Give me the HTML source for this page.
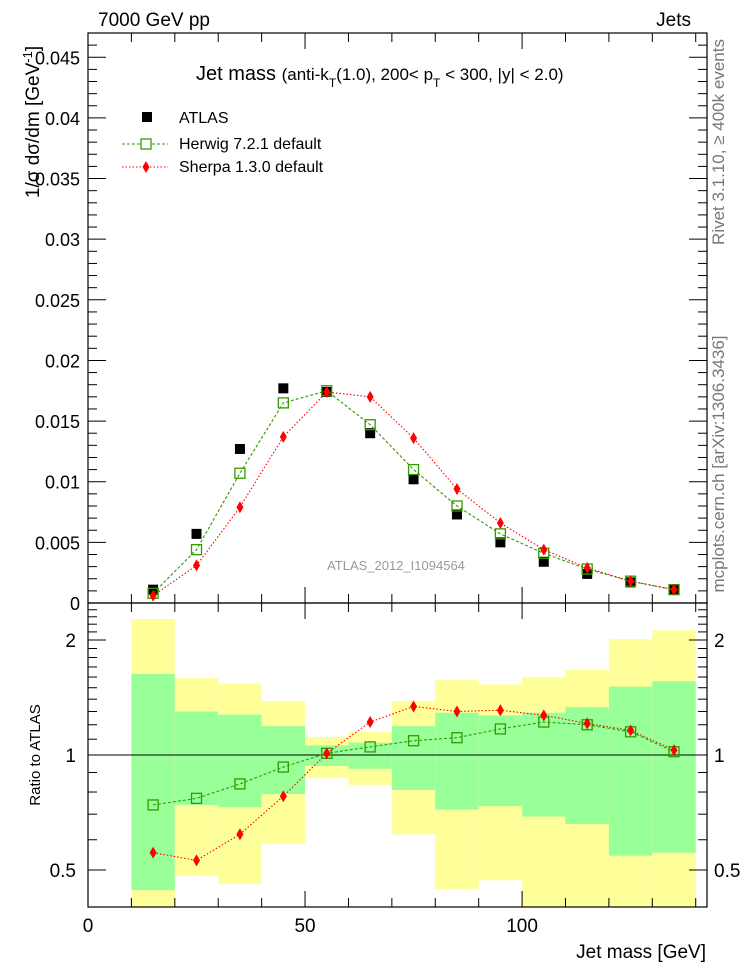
<!DOCTYPE html>
<html><head><meta charset="utf-8"><style>
html,body{margin:0;padding:0;background:#fff}
svg{display:block;font-family:"Liberation Sans",sans-serif}
</style></head><body>
<svg id="c" width="746" height="972" viewBox="0 0 746 972">
<defs>
<clipPath id="clipR"><rect x="88" y="603" width="619" height="304"/></clipPath>
</defs>
<text x="98" y="26" font-size="19">7000 GeV pp</text>
<text x="691" y="26" font-size="19" text-anchor="end">Jets</text>
<g id="ratioBands" clip-path="url(#clipR)"></g>
<g id="mainG"></g>
<g id="ratioG"></g>
<text x="196" y="80" font-size="20">Jet mass <tspan font-size="17">(anti-k</tspan><tspan font-size="12" dy="7">T</tspan><tspan font-size="17" dy="-7">(1.0), 200&lt; p</tspan><tspan font-size="12" dy="7">T</tspan><tspan font-size="17" dy="-7"> &lt; 300, |y| &lt; 2.0)</tspan></text>
<g>
<rect x="142" y="112" width="10" height="10" fill="#000"/>
<text x="179" y="123" font-size="16">ATLAS</text>
<line x1="122" y1="144" x2="168" y2="144" stroke="#339900" stroke-dasharray="3,2"/>
<rect x="141" y="139" width="10" height="10" fill="#fff" stroke="#339900" stroke-width="1.3"/>
<text x="179" y="149" font-size="16">Herwig 7.2.1 default</text>
<line x1="122" y1="167" x2="168" y2="167" stroke="#ff0000" stroke-dasharray="1.5,2"/>
<polygon points="146,161 149.5,167 146,173 142.5,167" fill="#ff0000"/>
<text x="179" y="172" font-size="16">Sherpa 1.3.0 default</text>
</g>
<text x="396" y="570" font-size="13" fill="#999" text-anchor="middle">ATLAS_2012_I1094564</text>
<text transform="translate(39,122) rotate(-90)" font-size="19" text-anchor="middle" x="0" y="0">1/σ dσ/dm [GeV<tspan dy="-7" font-size="13">-1</tspan><tspan dy="7">]</tspan></text>
<text transform="translate(40,755) rotate(-90)" font-size="15" text-anchor="middle">Ratio to ATLAS</text>
<text x="706" y="958" font-size="19" text-anchor="end">Jet mass [GeV]</text>
<text transform="translate(724,142) rotate(-90)" font-size="17" fill="#777" text-anchor="middle">Rivet 3.1.10, ≥ 400k events</text>
<text transform="translate(724,464) rotate(-90)" font-size="17" fill="#777" text-anchor="middle">mcplots.cern.ch [arXiv:1306.3436]</text>
</svg>
<script>
const binCenters=[15,25,35,45,55,65,75,85,95,105,115,125,135];
const binLo=[10,20,30,40,50,60,70,80,90,100,110,120,130];
const atlasVals=[0.0011,0.0057,0.0127,0.0177,0.0174,0.0140,0.0102,0.0073,0.0050,0.0034,0.0024,0.0017,0.0011];
const herwigVals=[0.0008,0.0044,0.0107,0.0165,0.0175,0.0147,0.0110,0.0080,0.0057,0.0041,0.0028,0.0018,0.0011];
const sherpaVals=[0.0006,0.0031,0.0079,0.0137,0.0174,0.0170,0.0136,0.0094,0.0066,0.0044,0.0029,0.0018,0.0011];
const herwigRatio=[0.74,0.77,0.84,0.93,1.01,1.05,1.09,1.11,1.17,1.22,1.20,1.15,1.02];
const sherpaRatio=[0.555,0.53,0.62,0.78,1.01,1.22,1.34,1.30,1.31,1.27,1.21,1.16,1.03];
const greenHi=[1.63,1.30,1.275,1.19,1.06,1.077,1.19,1.29,1.27,1.29,1.335,1.51,1.56];
const greenLo=[0.443,0.74,0.73,0.79,0.936,0.92,0.81,0.72,0.735,0.69,0.66,0.545,0.555];
const yellowHi=[2.27,1.59,1.54,1.385,1.115,1.15,1.385,1.57,1.53,1.6,1.67,2.01,2.12];
const yellowLo=[0.3,0.482,0.46,0.585,0.87,0.835,0.62,0.446,0.47,0.3,0.3,0.3,0.3];
const yTicks=[0,0.005,0.01,0.015,0.02,0.025,0.03,0.035,0.04,0.045];
const yTickLabels=["0","0.005","0.01","0.015","0.02","0.025","0.03","0.035","0.04","0.045"];
const xTicks=[0,50,100];
const rTicks=[0.5,1,2];

const NS="http://www.w3.org/2000/svg";
const X0=88,X1=707,XMAX=142.6;
const MT=33,MB=603,YMAX=0.047;
const RT=603,RB=907,R1=755,RPX=115;
const sx=v=>X0+v*(X1-X0)/XMAX;
const sy=v=>MB-v*(MB-MT)/YMAX;
const sr=v=>R1-Math.log2(v)*RPX;
function mk(tag,attrs,parent){const e=document.createElementNS(NS,tag);for(const k in attrs)e.setAttribute(k,attrs[k]);parent.appendChild(e);return e;}
const mainG=document.getElementById('mainG'),ratioG=document.getElementById('ratioG'),bands=document.getElementById('ratioBands');

for(let i=0;i<binLo.length;i++){
  const x=sx(binLo[i]),w=sx(binLo[i]+10)-x;
  let r=mk('rect',{x:x,y:sr(yellowHi[i]),width:w,height:sr(yellowLo[i])-sr(yellowHi[i]),fill:'#ffff99'},bands);
  
  
  r=mk('rect',{x:x,y:sr(greenHi[i]),width:w,height:sr(greenLo[i])-sr(greenHi[i]),fill:'#99ff99'},bands);
  
  
}
let l=mk('line',{x1:X0,y1:sr(1),x2:X1,y2:sr(1),stroke:'#000','stroke-width':1},ratioG);



let f=mk('rect',{x:X0,y:MT,width:X1-X0,height:MB-MT,fill:'none',stroke:'#000','stroke-width':1.2},mainG);


f=mk('rect',{x:X0,y:RT,width:X1-X0,height:RB-RT,fill:'none',stroke:'#000','stroke-width':1.2},ratioG);



for(let v=0;v<=XMAX;v+=10){
  const x=sx(v),major=v%50===0,len=major?16:9;
  mk('line',{x1:x,y1:MB,x2:x,y2:MB-len,stroke:'#000'},mainG);
  mk('line',{x1:x,y1:MT,x2:x,y2:MT+len,stroke:'#000'},mainG);
  mk('line',{x1:x,y1:RB,x2:x,y2:RB-len,stroke:'#000'},ratioG);
  mk('line',{x1:x,y1:RT,x2:x,y2:RT+len,stroke:'#000'},ratioG);
}
xTicks.forEach(v=>{const t=mk('text',{x:sx(v),y:932,'font-size':19,'text-anchor':'middle'},ratioG);t.textContent=v;
  
  });

for(let k=0;k<=47;k++){
  const v=k*0.001,y=sy(v),major=k%5===0,len=major?18:9;
  mk('line',{x1:X0,y1:y,x2:X0+len,y2:y,stroke:'#000'},mainG);
  mk('line',{x1:X1,y1:y,x2:X1-len,y2:y,stroke:'#000'},mainG);
}
yTicks.forEach((v,i)=>{const t=mk('text',{x:80,y:sy(v)+7,'font-size':18,'text-anchor':'end'},mainG);t.textContent=yTickLabels[i];
  
  });

const rMinor=[0.4,0.5,0.6,0.7,0.8,0.9,1,1.1,1.2,1.3,1.4,1.5,1.6,1.7,1.8,1.9,2,2.1,2.2,2.3,2.4,2.5];
rMinor.forEach(v=>{const y=sr(v);const major=rTicks.includes(v);const len=major?18:9;
  mk('line',{x1:X0,y1:y,x2:X0+len,y2:y,stroke:'#000'},ratioG);
  mk('line',{x1:X1,y1:y,x2:X1-len,y2:y,stroke:'#000'},ratioG);});
rTicks.forEach(v=>{
  let t=mk('text',{x:76,y:sr(v)+7,'font-size':19,'text-anchor':'end'},ratioG);t.textContent=v;
  
  
  t=mk('text',{x:714,y:sr(v)+7,'font-size':19},ratioG);t.textContent=v;
  
  
});

function line(vals,fy,color,dash,g,name){
  const p=mk('polyline',{points:binCenters.map((c,i)=>sx(c)+','+fy(vals[i])).join(' '),fill:'none',stroke:color,'stroke-width':1.1,'stroke-dasharray':dash},g);
  
  
}
function squares(vals,fy,g,open,name){
  vals.forEach((v,i)=>{const r=mk('rect',{x:sx(binCenters[i])-5,y:fy(v)-5,width:10,height:10,fill:open?'none':'#000',stroke:open?'#339900':'none','stroke-width':1.3},g);
    
    });
}
function diamonds(vals,fy,g,name){
  vals.forEach((v,i)=>{const x=sx(binCenters[i]),y=fy(v);
    const p=mk('polygon',{points:`${x},${y-6} ${x+3.5},${y} ${x},${y+6} ${x-3.5},${y}`,fill:'#ff0000'},g);
    
    });
}
squares(atlasVals,sy,mainG,false,'atlas-point');
line(herwigVals,sy,'#339900','3,2',mainG,'herwig-line');
line(sherpaVals,sy,'#ff0000','1.5,2',mainG,'sherpa-line');
squares(herwigVals,sy,mainG,true,'herwig-point');
diamonds(sherpaVals,sy,mainG,'sherpa-point');
line(herwigRatio,sr,'#339900','3,2',ratioG,'herwig-ratio-line');
line(sherpaRatio,sr,'#ff0000','1.5,2',ratioG,'sherpa-ratio-line');
squares(herwigRatio,sr,ratioG,true,'herwig-ratio-point');
diamonds(sherpaRatio,sr,ratioG,'sherpa-ratio-point');
</script>
</body></html>
